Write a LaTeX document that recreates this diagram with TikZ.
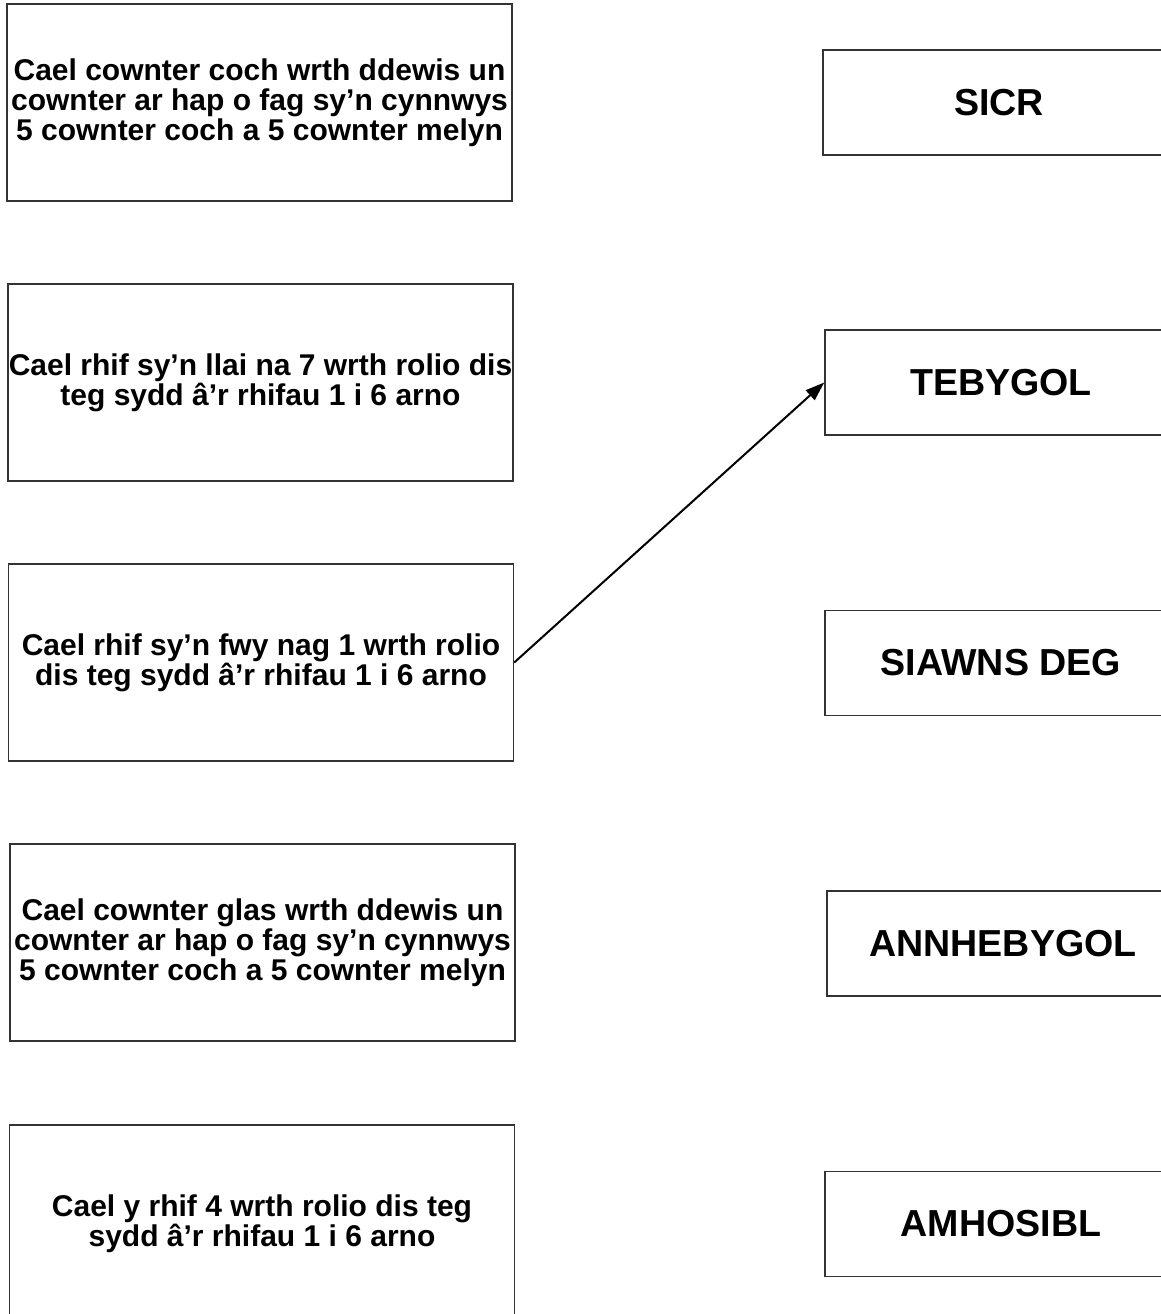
\documentclass[tikz,border=0pt]{standalone}
\usepackage{fontspec}
\setmainfont{Liberation Sans}
\usetikzlibrary{arrows.meta}
\begin{document}
\begin{tikzpicture}[x=0.5pt,y=-0.5pt,
  lbox/.style={draw=black!80, line width=0.75pt, minimum width=252.5pt, minimum height=98.5pt,
    align=center, inner sep=0pt, font=\fontsize{15}{15}\selectfont\bfseries},
  rbox/.style={draw=black!80, line width=0.75pt, minimum width=176pt, minimum height=52.5pt,
    align=center, inner sep=0pt, font=\fontsize{18.8}{20}\selectfont\bfseries},
  conn/.style={line width=1pt, -{Triangle[length=9.5pt,width=6.5pt]}}]
\useasboundingbox (0,0) rectangle (1161,1314);
\clip (0,0) rectangle (1161,1314);
\fill[white] (0,0) rectangle (1161,1314);

\node[lbox] (b1) at (259.5,102.5) {Cael cownter coch wrth ddewis un\\cownter ar hap o fag sy’n cynnwys\\5 cownter coch a 5 cownter melyn};
\node[lbox] (b2) at (260.5,382.5) {Cael rhif sy’n llai na 7 wrth rolio dis\\teg sydd â’r rhifau 1 i 6 arno};
\node[lbox] (b3) at (261,662.5) {Cael rhif sy’n fwy nag 1 wrth rolio\\dis teg sydd â’r rhifau 1 i 6 arno};
\node[lbox] (b4) at (262.5,942.5) {Cael cownter glas wrth ddewis un\\cownter ar hap o fag sy’n cynnwys\\5 cownter coch a 5 cownter melyn};
\node[lbox] (b5) at (262,1223.5) {Cael y rhif 4 wrth rolio dis teg\\sydd â’r rhifau 1 i 6 arno};

\node[rbox] (r1) at (999,102.5) {SICR};
\node[rbox] (r2) at (1001,382.5) {TEBYGOL};
\node[rbox] (r3) at (1001,663) {SIAWNS DEG};
\node[rbox] (r4) at (1003,943.5) {ANNHEBYGOL};
\node[rbox] (r5) at (1001,1224) {AMHOSIBL};

\draw[conn] (b3.east) -- (r2.west);
\end{tikzpicture}
\end{document}
